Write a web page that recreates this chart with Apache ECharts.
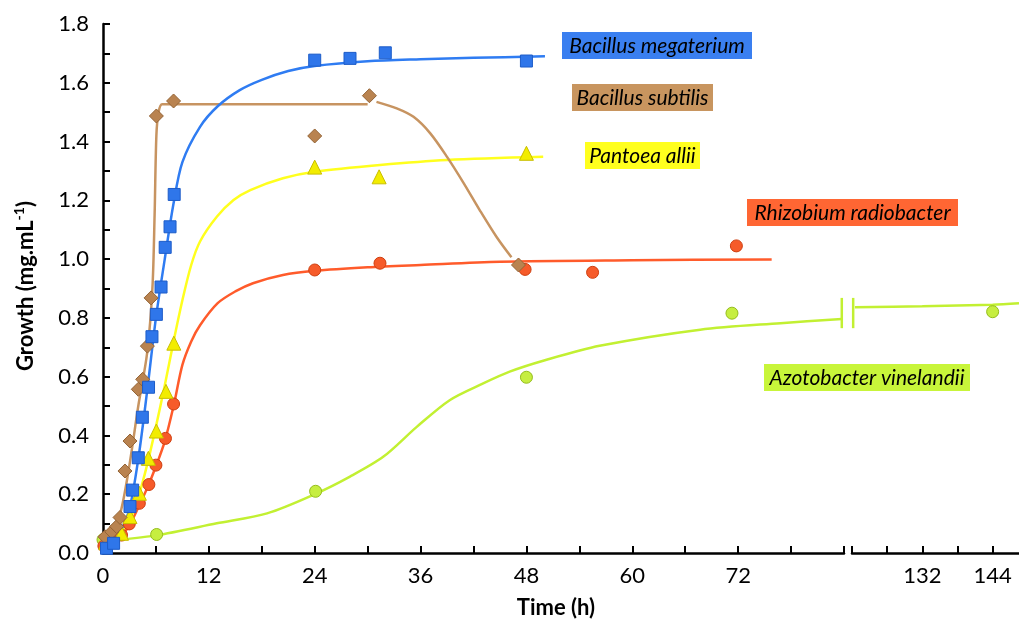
<!DOCTYPE html>
<html>
<head>
<meta charset="utf-8">
<script src="https://cdn.jsdelivr.net/npm/echarts@6/dist/echarts.min.js"></script>
<style>
  html, body { margin: 0; padding: 0; background: #ffffff; }
  #chart { width: 1019px; height: 627px; }
</style>
</head>
<body>
<div id="chart"></div>
<script>
// ---------- DATA (hours, growth mg/mL) ----------
const speciesNames = ['Bacillus megaterium', 'Bacillus subtilis', 'Pantoea allii', 'Rhizobium radiobacter', 'Azotobacter vinelandii'];

const yTickValues = [0.0, 0.2, 0.4, 0.6, 0.8, 1.0, 1.2, 1.4, 1.6, 1.8];
const xTickLabelsLeft = [0, 12, 24, 36, 48, 60, 72];
const xTickLabelsRight = [132, 144];

// measured points
const megateriumPoints = [[0.4,0.016],[1.2,0.033],[3.06,0.158],[3.36,0.214],[4.0,0.324],[4.46,0.462],[5.16,0.564],[5.55,0.736],[6.05,0.812],[6.58,0.905],[7.05,1.04],[7.6,1.11],[8.07,1.22],[24,1.677],[28,1.683],[32,1.702],[48,1.674]];
const subtilisPoints = [[0.23,0.055],[1.0,0.072],[1.55,0.09],[1.93,0.121],[2.49,0.279],[3.06,0.381],[4.0,0.557],[4.5,0.591],[5.03,0.704],[5.45,0.868],[6.05,1.487],[8.0,1.538],[24,1.419],[30.2,1.556],[47.1,0.98]];
const pantoeaPoints = [[0.3,0.035],[2.1,0.067],[3.06,0.124],[4.12,0.203],[5.14,0.322],[6.05,0.415],[7.14,0.55],[8.03,0.714],[24,1.313],[31.3,1.28],[48,1.36]];
const rhizobiumPoints = [[0.1,0.024],[1.17,0.038],[2.1,0.061],[2.98,0.099],[4.12,0.169],[5.2,0.233],[6.0,0.299],[7.08,0.39],[8.0,0.507],[24,0.963],[31.4,0.986],[47.85,0.965],[55.5,0.955],[71.8,1.045]];
const azotobacterPoints = [[0,0.045],[6.08,0.063],[24.1,0.21],[48,0.598],[71.3,0.816]];
const azotobacterPointsLate = [[144,0.821]];

// fitted curves
const megateriumFit = [[0,0.02],[1,0.035],[2,0.075],[3,0.15],[4,0.32],[5,0.55],[6,0.8],[7,1.0],[8,1.19],[9,1.33],[11,1.45],[13,1.52],[15.5,1.575],[18,1.61],[21,1.64],[24,1.657],[30,1.673],[36,1.68],[42,1.685],[50.1,1.69]];
const subtilisFitRise = [[0,0.05],[1,0.075],[2,0.14],[3,0.3],[4,0.5],[5,0.68],[5.6,0.9],[5.85,1.15],[6.05,1.42],[6.3,1.5],[6.7,1.527],[8,1.527],[30,1.527]];
const subtilisFitFall = [[31,1.535],[33.3,1.513],[35.2,1.484],[37.1,1.428],[39,1.348],[40.9,1.258],[42.7,1.167],[44.6,1.076],[46.3,1.006]];
const pantoeaFit = [[0,0.03],[1,0.045],[2,0.07],[3,0.11],[4,0.19],[5,0.3],[6,0.43],[7,0.57],[8,0.72],[9,0.86],[10,0.98],[11,1.06],[12.9,1.144],[14.8,1.201],[16.7,1.235],[20.4,1.275],[24,1.297],[31.4,1.32],[39,1.337],[49.9,1.348]];
const rhizobiumFit = [[0,0.02],[1,0.035],[2,0.055],[3,0.095],[4,0.155],[5,0.22],[6,0.295],[7,0.38],[8,0.5],[9,0.64],[10,0.72],[11,0.775],[13,0.85],[15,0.89],[17,0.918],[20.4,0.946],[24,0.96],[30,0.972],[36,0.98],[45,0.991],[60,0.996],[75.8,0.999]];
const azotobacterFit = [[0,0.04],[6,0.06],[12.9,0.101],[18.6,0.135],[24,0.2],[28,0.26],[31.8,0.328],[35.6,0.43],[39.3,0.52],[43.1,0.577],[46.1,0.617],[50,0.655],[56.3,0.705],[67.7,0.76],[76.8,0.782],[83.75,0.796]];
const azotobacterFitLate = [[120.5,0.836],[132,0.84],[144,0.845],[148.5,0.85]];
const breakMarkLeft = [[83.75,0.765],[83.75,0.868]];
const breakMarkRight = [[120.2,0.765],[120.2,0.868]];

// ---------- STYLE ----------
const FONT = 'Lato, "Open Sans", sans-serif';
const C = {
  blue:  { line: '#2f7cf2', fill: '#2f76ea', border: '#1d5cc8', label: '#3a7ff0' },
  brown: { line: '#c79461', fill: '#b98350', border: '#946436', label: '#c8955f' },
  yellow:{ line: '#ffff1e', fill: '#f2ec00', border: '#c9bf00', label: '#ffff1e' },
  red:   { line: '#ff5b2b', fill: '#f65b2a', border: '#cf3f10', label: '#ff6633' },
  green: { line: '#c2f032', fill: '#c6ee40', border: '#95bd1c', label: '#c8f53a' }
};

function lineSeries(data, color, xi, extra) {
  return Object.assign({
    type: 'line', data: data, xAxisIndex: xi, yAxisIndex: xi,
    smooth: 0.3, symbol: 'none',
    lineStyle: { color: color, width: 2.5 }, z: 2, silent: true
  }, extra || {});
}
function scatterSeries(data, c, symbol, size, xi) {
  return {
    type: 'scatter', data: data, xAxisIndex: xi, yAxisIndex: xi,
    symbol: symbol, symbolSize: size,
    itemStyle: { color: c.fill, borderColor: c.border, borderWidth: 1, opacity: 1 },
    z: 4, silent: true
  };
}

const axisLineStyle = { show: true, lineStyle: { color: '#000', width: 2.5 } };
const axisTickStyle = { show: true, inside: true, length: 7, lineStyle: { color: '#000', width: 2 } };
const labelStyle = { color: '#000', fontSize: 22, fontFamily: FONT };

const chart = echarts.init(document.getElementById('chart'), null, { renderer: 'canvas' });

const labelBoxes = [
  { name: speciesNames[0], x: 562, y: 32, w: 190, h: 27, bg: C.blue.label },
  { name: speciesNames[1], x: 572, y: 84, w: 141, h: 27, bg: C.brown.label },
  { name: speciesNames[2], x: 585, y: 142, w: 115, h: 27, bg: C.yellow.label },
  { name: speciesNames[3], x: 747, y: 199, w: 211, h: 27, bg: C.red.label },
  { name: speciesNames[4], x: 764, y: 364, w: 206, h: 27, bg: C.green.label }
];
const graphics = [];
labelBoxes.forEach(b => {
  graphics.push({ type: 'rect', shape: { x: b.x, y: b.y, width: b.w, height: b.h }, style: { fill: b.bg }, z: 10 });
  graphics.push({ type: 'text', x: b.x + b.w / 2, y: b.y + b.h / 2 + 1, z: 11,
    style: { text: b.name, fill: '#000', font: 'italic 21px ' + FONT, textAlign: 'center', textVerticalAlign: 'middle' } });
});
graphics.push({ type: 'text', x: 556, y: 608, z: 11,
  style: { text: 'Time (h)', fill: '#000', font: 'bold 22px ' + FONT, textAlign: 'center', textVerticalAlign: 'middle' } });
graphics.push({ type: 'text', x: 26, y: 286, rotation: Math.PI / 2, z: 11,
  style: {
    text: '{a|Growth (mg.mL}{s|-1}{a|)}',
    textAlign: 'center', textVerticalAlign: 'middle',
    rich: {
      a: { fontSize: 22, fontWeight: 'bold', fontFamily: FONT, fill: '#000', color: '#000', lineHeight: 28 },
      s: { fontSize: 14, fontWeight: 'bold', fontFamily: FONT, fill: '#000', color: '#000', verticalAlign: 'top', lineHeight: 28 }
    }
  } });

const option = {
  animation: false,
  backgroundColor: '#ffffff',
  grid: [
    { left: 103, top: 24, width: 741, height: 529 },
    { left: 852, top: 24, width: 167, height: 529 }
  ],
  xAxis: [
    { type: 'value', gridIndex: 0, min: 0, max: 84, interval: 6,
      axisLine: axisLineStyle, axisTick: axisTickStyle, splitLine: { show: false },
      axisLabel: Object.assign({ margin: 12, formatter: v => xTickLabelsLeft.indexOf(v) >= 0 ? String(v) : '' }, labelStyle) },
    { type: 'value', gridIndex: 1, min: 120, max: 148.5, interval: 6,
      axisLine: axisLineStyle, axisTick: axisTickStyle, splitLine: { show: false },
      axisLabel: Object.assign({ margin: 12, showMaxLabel: false, formatter: v => xTickLabelsRight.indexOf(v) >= 0 ? String(v) : '' }, labelStyle) }
  ],
  yAxis: [
    { type: 'value', gridIndex: 0, min: 0, max: 1.8, interval: 0.1,
      axisLine: axisLineStyle, axisTick: axisTickStyle, splitLine: { show: false },
      axisLabel: Object.assign({ margin: 14, formatter: v => {
        const r = Math.round(v * 10) / 10;
        return yTickValues.some(t => Math.abs(t - r) < 1e-6) ? r.toFixed(1) : '';
      } }, labelStyle) },
    { type: 'value', gridIndex: 1, min: 0, max: 1.8, interval: 0.1, show: false }
  ],
  series: [
    lineSeries(azotobacterFit, C.green.line, 0),
    lineSeries(azotobacterFitLate, C.green.line, 1, { clip: false }),
    lineSeries(breakMarkLeft, C.green.line, 0, { smooth: false, clip: false }),
    lineSeries(breakMarkRight, C.green.line, 1, { smooth: false, clip: false }),
    lineSeries(rhizobiumFit, C.red.line, 0),
    lineSeries(pantoeaFit, C.yellow.line, 0),
    lineSeries(subtilisFitRise, C.brown.line, 0),
    lineSeries(subtilisFitFall, C.brown.line, 0),
    lineSeries(megateriumFit, C.blue.line, 0),
    scatterSeries(azotobacterPoints, C.green, 'circle', 12, 0),
    scatterSeries(azotobacterPointsLate, C.green, 'circle', 12, 1),
    scatterSeries(rhizobiumPoints, C.red, 'circle', 12, 0),
    scatterSeries(pantoeaPoints, C.yellow, 'triangle', 14, 0),
    scatterSeries(subtilisPoints, C.brown, 'diamond', 14, 0),
    scatterSeries(megateriumPoints, C.blue, 'rect', 12, 0)
  ],
  graphic: graphics
};
chart.setOption(option);
</script>
</body>
</html>
